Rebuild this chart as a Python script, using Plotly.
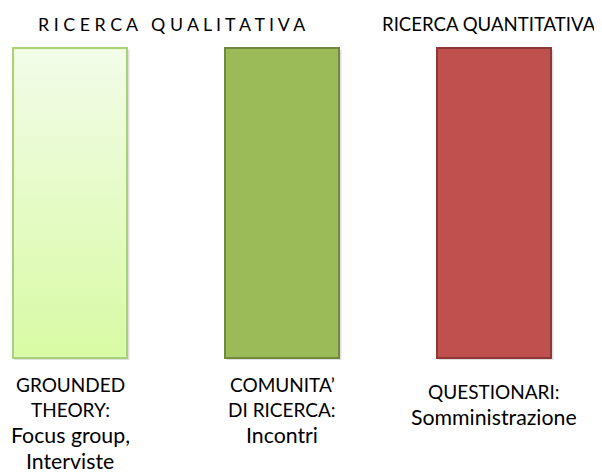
import plotly.graph_objects as go

# Data
categories = ["GROUNDED THEORY", "COMUNITA' DI RICERCA", "QUESTIONARI"]
bar_centers = [70, 282, 494]
bar_top = [48, 48, 48]
bar_height = [310, 310, 310]
bar_width = 114
bar_colors = ["#E4F9C4", "#9BBB59", "#C0504D"]
bar_borders = ["#A9D07A", "#71893F", "#8C3836"]

labels = [
    ["GROUNDED", "THEORY:", "Focus group,", "Interviste"],
    ["COMUNITA\u2019", "DI RICERCA:", "Incontri"],
    ["QUESTIONARI:", "Somministrazione"],
]
label_start = [384, 384, 391]
line_step = 25.5

titles = ["R I C E R C A   Q U A L I T A T I V A", "RICERCA QUANTITATIVA"]
title_x = [171, 489]
title_size = [17.8, 18.6]

FONT = "Lato"
OFF = 8  # page body offset

fig = go.Figure()

# shadow
fig.add_trace(go.Bar(
    x=[c + 2 for c in bar_centers], y=bar_height, base=[t + 2 for t in bar_top],
    width=bar_width + 1, marker=dict(color="rgba(0,0,0,0.13)", line=dict(width=0)),
    hoverinfo="skip", showlegend=False,
))
fig.add_trace(go.Bar(
    x=bar_centers, y=bar_height, base=bar_top, width=bar_width,
    marker=dict(color=bar_colors, line=dict(color=bar_borders, width=2)),
    showlegend=False,
))
# vertical gradient fill inside first bar
x0 = bar_centers[0] - bar_width / 2 + 1.5
x1 = bar_centers[0] + bar_width / 2 - 1.5
y0 = bar_top[0] + 1.5
y1 = bar_top[0] + bar_height[0] - 1.5
fig.add_trace(go.Scatter(
    x=[x0, x1, x1, x0, x0], y=[y0, y0, y1, y1, y0], mode="lines",
    line=dict(width=0), fill="toself",
    fillgradient=dict(type="vertical", colorscale=[[0, "#D8FAA4"], [1, "#F2FCE8"]]),
    hoverinfo="skip", showlegend=False,
))

annotations = []
for t, x, s in zip(titles, title_x, title_size):
    annotations.append(dict(x=x, y=24, text=t, showarrow=False, xanchor="center", yanchor="middle",
                            font=dict(family=FONT, size=s, color="#000000")))
for lines, cx, ys in zip(labels, bar_centers, label_start):
    for i, line in enumerate(lines):
        size = 19 if line.upper() == line else 21.3
        annotations.append(dict(x=cx, y=ys + i * line_step, text=line, showarrow=False,
                                xanchor="center", yanchor="middle",
                                font=dict(family=FONT, size=size, color="#000000")))

fig.update_layout(
    width=602 - OFF, height=475 - OFF,
    margin=dict(l=0, r=0, t=0, b=0),
    paper_bgcolor="white", plot_bgcolor="white",
    barmode="overlay",
    xaxis=dict(range=[OFF, 602], visible=False, fixedrange=True),
    yaxis=dict(range=[475, OFF], visible=False, fixedrange=True),
    annotations=annotations,
)

fig.write_html("out.html")
